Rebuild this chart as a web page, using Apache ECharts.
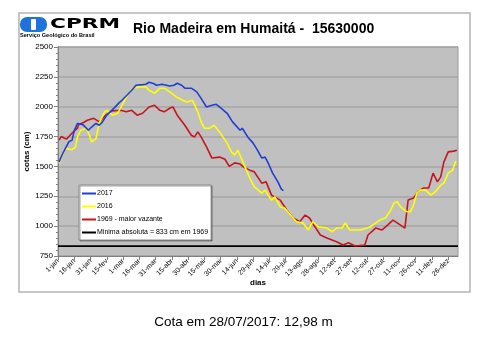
<!DOCTYPE html>
<html>
<head>
<meta charset="utf-8">
<script src="https://cdn.jsdelivr.net/npm/echarts@6/dist/echarts.min.js"></script>
<style>
  html, body { margin: 0; padding: 0; background: #fff; }
  #chart { width: 487px; height: 339px; }
</style>
</head>
<body>
<div id="chart"></div>
<script>
// Day-of-year (0 = 1-jan) and stage in cm
const days2017 = [1, 4, 6, 10, 13, 15, 18, 19, 23, 28, 31, 35, 38, 41, 45, 52, 56, 59, 64, 68, 72, 78, 81, 84, 88, 91, 96, 103, 107, 110, 114, 117, 123, 128, 132, 137, 142, 146, 149, 156, 161, 168, 170, 175, 180, 184, 188, 191, 194, 198, 203, 206, 208];
const cota2017 = [1538, 1600, 1636, 1706, 1720, 1800, 1860, 1873, 1850, 1803, 1830, 1860, 1845, 1873, 1930, 1990, 2030, 2054, 2100, 2138, 2180, 2185, 2188, 2205, 2195, 2180, 2188, 2174, 2180, 2196, 2180, 2155, 2155, 2124, 2070, 1998, 2012, 2020, 1998, 1945, 1873, 1803, 1820, 1747, 1695, 1636, 1570, 1578, 1527, 1444, 1369, 1310, 1298];

const days2016 = [1, 4, 6, 8, 13, 16, 18, 21, 26, 29, 31, 35, 38, 43, 45, 50, 55, 59, 64, 69, 75, 81, 84, 89, 94, 98, 105, 109, 115, 119, 124, 129, 132, 135, 140, 144, 149, 156, 160, 163, 166, 169, 177, 181, 188, 191, 197, 200, 205, 209, 216, 220, 226, 231, 235, 240, 248, 253, 257, 262, 265, 269, 279, 285, 288, 293, 297, 302, 306, 310, 313, 316, 322, 325, 328, 331, 334, 339, 344, 348, 353, 356, 360, 364, 367];
const cota2016 = [1525, 1590, 1636, 1650, 1640, 1660, 1747, 1803, 1820, 1761, 1705, 1730, 1862, 1957, 1970, 1929, 1945, 2012, 2096, 2155, 2166, 2166, 2138, 2112, 2155, 2155, 2112, 2082, 2054, 2040, 2054, 1957, 1873, 1820, 1820, 1845, 1789, 1695, 1622, 1595, 1636, 1570, 1402, 1330, 1277, 1302, 1218, 1246, 1162, 1151, 1078, 1037, 1026, 968, 1037, 995, 984, 953, 984, 984, 1026, 968, 968, 984, 995, 1026, 1051, 1068, 1120, 1193, 1204, 1162, 1120, 1120, 1176, 1277, 1302, 1302, 1260, 1288, 1343, 1360, 1444, 1469, 1545];

const days1969 = [1, 3, 6, 8, 13, 18, 19, 24, 27, 33, 38, 44, 50, 58, 63, 68, 73, 78, 84, 89, 94, 98, 103, 106, 110, 117, 123, 126, 129, 132, 137, 142, 149, 154, 158, 163, 168, 172, 177, 181, 188, 192, 197, 205, 211, 217, 223, 228, 232, 237, 242, 248, 257, 263, 268, 274, 283, 286, 293, 299, 304, 309, 316, 320, 323, 328, 332, 337, 342, 346, 350, 353, 356, 360, 365, 368];
const cota1969 = [1720, 1750, 1736, 1730, 1780, 1820, 1850, 1870, 1887, 1903, 1873, 1929, 1965, 1970, 1957, 1970, 1929, 1945, 1998, 2012, 1970, 1957, 1987, 1998, 1929, 1845, 1761, 1747, 1789, 1747, 1664, 1570, 1578, 1560, 1500, 1530, 1520, 1490, 1469, 1455, 1360, 1371, 1260, 1218, 1135, 1068, 1037, 1093, 1068, 995, 926, 901, 870, 842, 861, 834, 842, 926, 984, 968, 1009, 1051, 1009, 984, 1218, 1235, 1288, 1319, 1319, 1444, 1371, 1413, 1538, 1622, 1628, 1636];

const minimaAbsoluta = 833;
const dayLabels = ['1-jan', '16-jan', '31-jan', '15-fev', '1-mar', '16-mar', '31-mar', '15-abr', '30-abr', '15-mai', '30-mai', '14-jun', '29-jun', '14-jul', '29-jul', '13-ago', '28-ago', '12-set', '27-set', '12-out', '27-out', '11-nov', '26-nov', '11-dez', '26-dez'];
const seriesNames = ['2017', '2016', '1969 - maior vazante', 'Minima absoluta = 833 cm em 1969'];

const pairs = (xs, ys) => xs.map((d, i) => [d, ys[i]]);

const chart = echarts.init(document.getElementById('chart'), null, { renderer: 'canvas' });

const lineSeries = (name, data, color, z) => ({
  name, type: 'line', data, symbol: 'none', smooth: false, z,
  lineStyle: { color, width: 1.6 }, itemStyle: { color }
});

chart.setOption({
  animation: false,
  backgroundColor: '#fff',
  grid: { left: 58, top: 47, right: 29, bottom: 83, show: true, backgroundColor: '#C0C0C0', borderColor: '#9a9a9a', borderWidth: 1 },
  xAxis: {
    type: 'value', min: 0, max: 369, interval: 15,
    axisLine: { lineStyle: { color: '#808080', width: 1 } },
    axisTick: { show: true, length: 4, lineStyle: { color: '#808080' } },
    splitLine: { show: false },
    axisLabel: {
      rotate: 45, fontSize: 7, color: '#000', fontFamily: 'Liberation Sans', margin: 4,
      showMaxLabel: false,
      formatter: v => (v % 15 === 0 && dayLabels[v / 15]) ? dayLabels[v / 15] : ''
    },
    name: 'dias', nameLocation: 'middle', nameGap: 23, nameMoveOverlap: false,
    nameTextStyle: { fontSize: 8, fontWeight: 'bold', color: '#000', fontFamily: 'Liberation Sans' }
  },
  yAxis: {
    type: 'value', min: 750, max: 2500, interval: 250,
    axisLine: { show: true, lineStyle: { color: '#808080', width: 1 } },
    axisTick: { show: true, length: 4, lineStyle: { color: '#808080' } },
    minorTick: { show: true, splitNumber: 5, length: 2, lineStyle: { color: '#808080' } },
    splitLine: { show: true, lineStyle: { color: '#a6a6a6', width: 1.5 } },
    axisLabel: { fontSize: 8, color: '#000', fontFamily: 'Liberation Sans', margin: 5, formatter: v => String(v) },
    name: 'cotas (cm)', nameLocation: 'middle', nameGap: 27, nameMoveOverlap: false,
    nameTextStyle: { fontSize: 8, fontWeight: 'bold', color: '#000', fontFamily: 'Liberation Sans' }
  },
  legend: {
    orient: 'vertical', left: 79, top: 185,
    data: seriesNames,
    backgroundColor: '#fff', borderColor: '#8a8a8a', borderWidth: 1,
    shadowColor: 'rgba(0,0,0,0.35)', shadowOffsetX: 1, shadowOffsetY: 1, shadowBlur: 0,
    padding: [5, 3, 4, 3], itemGap: 6, itemWidth: 14, itemHeight: 2,
    icon: 'rect',
    textStyle: { fontSize: 7, color: '#000', fontFamily: 'Liberation Sans', padding: [0, 0, 0, -4] }
  },
  graphic: [
    { type: 'rect', shape: { x: 19, y: 13, width: 451, height: 279 }, style: { fill: 'none', stroke: '#b4b4b4', lineWidth: 1.5 }, silent: true },
    { type: 'rect', shape: { x: 20, y: 17, width: 27, height: 15, r: 7 }, style: { fill: '#1E73D8' }, silent: true },
    { type: 'rect', shape: { x: 31, y: 19, width: 5, height: 11, r: 1 }, style: { fill: '#fff' }, silent: true },
    { type: 'text', x: 50, y: 17, scaleX: 1.55, style: { text: 'CPRM', font: '900 14px "DejaVu Sans"', fill: '#000' }, silent: true },
    { type: 'text', x: 20, y: 32, style: { text: 'Serviço Geológico do Brasil', font: 'bold 5.6px "Liberation Sans"', fill: '#000' }, silent: true },
    { type: 'text', x: 133, y: 22, style: { text: 'Rio Madeira em Humaitá -  15630000', font: 'bold 14px "Liberation Sans"', fill: '#000' }, silent: true },
    { type: 'text', left: 'center', top: 315, style: { text: 'Cota em 28/07/2017: 12,98 m', font: '13.5px "Liberation Sans"', fill: '#000' }, silent: true }
  ],
  series: [
    lineSeries(seriesNames[0], pairs(days2017, cota2017), '#1F3FD2', 5),
    lineSeries(seriesNames[1], pairs(days2016, cota2016), '#FFFF00', 4),
    lineSeries(seriesNames[2], pairs(days1969, cota1969), '#C4161C', 3),
    lineSeries(seriesNames[3], [[0, minimaAbsoluta], [369, minimaAbsoluta]], '#000000', 2)
  ]
});
</script>
</body>
</html>
